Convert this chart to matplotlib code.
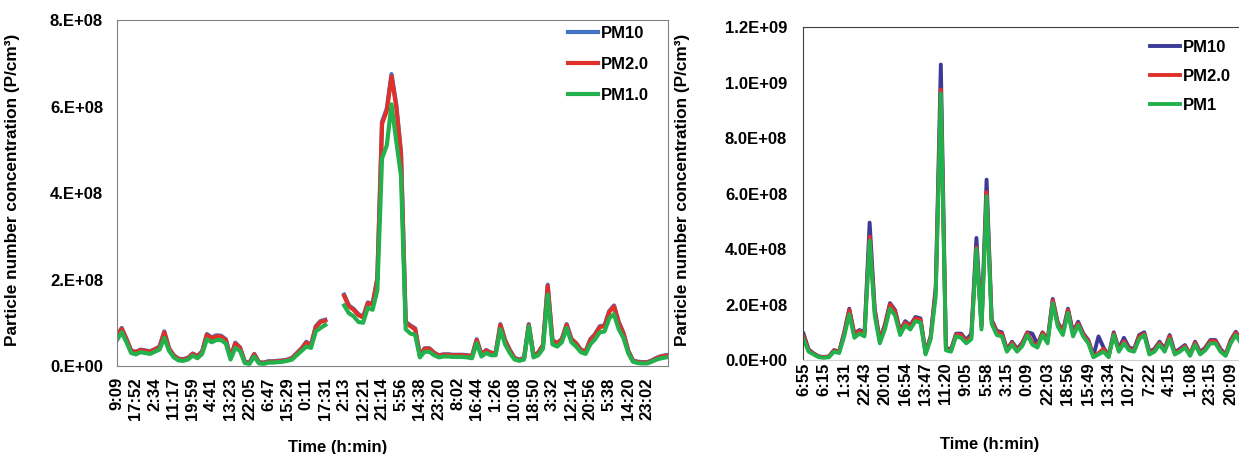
import numpy as np
import matplotlib
matplotlib.use("Agg")
import matplotlib.pyplot as plt

plt.rcParams["font.family"] = ["Liberation Sans", "DejaVu Sans"]
plt.rcParams["font.weight"] = "bold"
plt.rcParams["font.size"] = 12

nan = np.nan

# left panel, values in 1E+08 P/cm3, 4 samples per tick interval
left_ticks = ["9:09", "17:52", "2:34", "11:17", "19:59", "4:41", "13:23", "22:05",
              "6:47", "15:29", "0:11", "17:31", "2:13", "12:21", "21:14", "5:56",
              "14:38", "23:20", "8:02", "16:44", "1:26", "10:08", "18:50", "3:32",
              "12:14", "20:56", "5:38", "14:20", "23:02"]

left_pm1 = [
    0.60, 0.78, 0.55, 0.30, 0.27, 0.32, 0.30, 0.28, 0.33, 0.38, 0.65, 0.35,
    0.20, 0.13, 0.12, 0.15, 0.24, 0.18, 0.28, 0.62, 0.55, 0.60, 0.60, 0.52,
    0.15, 0.42, 0.35, 0.07, 0.05, 0.22, 0.06, 0.05, 0.08, 0.08, 0.09, 0.10,
    0.12, 0.15, 0.25, 0.35, 0.45, 0.42, 0.80, 0.88, 0.95, nan, nan, nan,
    1.40, 1.22, 1.15, 1.02, 1.00, 1.35, 1.30, 1.75, 4.80, 5.10, 6.05, 5.20,
    4.40, 0.85, 0.75, 0.72, 0.20, 0.33, 0.33, 0.25, 0.20, 0.22, 0.22, 0.21,
    0.21, 0.21, 0.20, 0.18, 0.53, 0.22, 0.30, 0.25, 0.25, 0.85, 0.50, 0.30,
    0.15, 0.12, 0.15, 0.92, 0.20, 0.25, 0.40, 1.65, 0.50, 0.45, 0.55, 0.88,
    0.55, 0.45, 0.32, 0.28, 0.50, 0.62, 0.78, 0.80, 1.10, 1.20, 0.85, 0.65,
    0.30, 0.10, 0.07, 0.06, 0.06, 0.10, 0.15, 0.18, 0.20]

left_pm2 = [
    0.68, 0.86, 0.62, 0.35, 0.32, 0.37, 0.35, 0.33, 0.38, 0.44, 0.78, 0.40,
    0.24, 0.16, 0.15, 0.18, 0.28, 0.22, 0.33, 0.72, 0.64, 0.69, 0.68, 0.60,
    0.19, 0.52, 0.42, 0.09, 0.07, 0.27, 0.08, 0.07, 0.10, 0.10, 0.11, 0.12,
    0.14, 0.18, 0.29, 0.40, 0.54, 0.48, 0.90, 1.02, 1.05, nan, nan, nan,
    1.62, 1.38, 1.30, 1.18, 1.12, 1.45, 1.42, 2.00, 5.60, 5.90, 6.70, 6.00,
    4.90, 1.00, 0.92, 0.85, 0.24, 0.40, 0.40, 0.30, 0.24, 0.26, 0.26, 0.25,
    0.25, 0.25, 0.24, 0.22, 0.60, 0.26, 0.36, 0.30, 0.29, 0.95, 0.58, 0.36,
    0.18, 0.14, 0.18, 0.95, 0.24, 0.30, 0.48, 1.85, 0.58, 0.52, 0.62, 0.95,
    0.62, 0.52, 0.37, 0.33, 0.60, 0.72, 0.90, 0.92, 1.25, 1.38, 1.00, 0.75,
    0.35, 0.12, 0.09, 0.08, 0.08, 0.12, 0.18, 0.22, 0.24]

left_pm10 = [
    0.70, 0.88, 0.63, 0.36, 0.33, 0.38, 0.36, 0.34, 0.39, 0.45, 0.80, 0.41,
    0.25, 0.17, 0.16, 0.19, 0.29, 0.23, 0.34, 0.74, 0.66, 0.71, 0.70, 0.62,
    0.20, 0.54, 0.43, 0.10, 0.08, 0.28, 0.09, 0.08, 0.11, 0.11, 0.12, 0.13,
    0.15, 0.19, 0.30, 0.41, 0.56, 0.49, 0.92, 1.04, 1.07, nan, nan, nan,
    1.65, 1.40, 1.32, 1.20, 1.14, 1.47, 1.44, 2.03, 5.65, 5.95, 6.75, 6.05,
    4.95, 1.02, 0.94, 0.87, 0.25, 0.41, 0.41, 0.31, 0.25, 0.27, 0.27, 0.26,
    0.26, 0.26, 0.25, 0.23, 0.62, 0.27, 0.37, 0.31, 0.30, 0.97, 0.60, 0.37,
    0.19, 0.15, 0.19, 0.97, 0.25, 0.31, 0.49, 1.88, 0.60, 0.53, 0.63, 0.97,
    0.63, 0.53, 0.38, 0.34, 0.62, 0.74, 0.92, 0.94, 1.27, 1.40, 1.02, 0.77,
    0.36, 0.13, 0.10, 0.09, 0.09, 0.13, 0.19, 0.23, 0.25]

left_yticks = ["0.E+00", "2.E+08", "4.E+08", "6.E+08", "8.E+08"]

# right panel
right_ticks = ["6:55", "6:15", "1:31", "22:43", "20:01", "16:54", "13:47", "11:20",
               "9:05", "5:58", "3:15", "0:09", "22:03", "18:56", "15:49", "13:34",
               "10:27", "7:22", "4:15", "1:08", "23:15", "20:09"]

right_pm1 = [
    0.75, 0.30, 0.20, 0.10, 0.08, 0.10, 0.30, 0.25, 0.85, 1.65, 0.80, 0.95,
    0.85, 4.30, 1.60, 0.60, 1.10, 1.85, 1.60, 0.90, 1.25, 1.10, 1.40, 1.35,
    0.20, 0.75, 2.30, 9.60, 0.35, 0.30, 0.85, 0.80, 0.60, 0.75, 4.00, 1.10,
    5.90, 1.30, 0.90, 0.85, 0.30, 0.55, 0.30, 0.50, 0.90, 0.55, 0.45, 0.90,
    0.60, 2.05, 1.20, 0.90, 1.70, 0.85, 1.25, 0.85, 0.60, 0.10, 0.20, 0.30,
    0.10, 0.90, 0.30, 0.60, 0.35, 0.30, 0.75, 0.90, 0.20, 0.30, 0.55, 0.30,
    0.75, 0.20, 0.30, 0.45, 0.15, 0.55, 0.20, 0.35, 0.60, 0.60, 0.30, 0.15,
    0.60, 0.90, 0.60, 0.80, 0.50]

right_pm2 = [
    0.85, 0.35, 0.22, 0.12, 0.10, 0.12, 0.34, 0.28, 0.95, 1.80, 0.90, 1.05,
    0.95, 4.45, 1.75, 0.68, 1.22, 2.00, 1.75, 1.00, 1.35, 1.20, 1.50, 1.45,
    0.24, 0.82, 2.50, 9.75, 0.40, 0.34, 0.92, 0.90, 0.68, 0.85, 4.05, 1.20,
    6.05, 1.40, 1.00, 0.95, 0.34, 0.62, 0.35, 0.58, 0.98, 0.62, 0.52, 0.98,
    0.68, 2.15, 1.30, 1.00, 1.80, 0.95, 1.32, 0.92, 0.68, 0.13, 0.25, 0.40,
    0.13, 0.95, 0.35, 0.68, 0.40, 0.35, 0.85, 0.95, 0.25, 0.35, 0.62, 0.35,
    0.85, 0.24, 0.35, 0.50, 0.18, 0.62, 0.24, 0.40, 0.68, 0.68, 0.35, 0.18,
    0.68, 0.98, 0.68, 0.88, 0.55]

right_pm10 = [
    0.95, 0.38, 0.24, 0.13, 0.11, 0.13, 0.36, 0.30, 1.00, 1.85, 0.95, 1.08,
    1.00, 4.95, 1.85, 0.72, 1.28, 2.05, 1.80, 1.05, 1.40, 1.25, 1.55, 1.50,
    0.28, 0.85, 2.65, 10.65, 0.44, 0.38, 0.95, 0.95, 0.72, 0.95, 4.40, 1.25,
    6.50, 1.45, 1.05, 1.00, 0.38, 0.66, 0.40, 0.62, 1.00, 0.95, 0.56, 1.00,
    0.72, 2.20, 1.35, 1.05, 1.85, 1.00, 1.38, 0.96, 0.72, 0.15, 0.85, 0.45,
    0.15, 1.00, 0.40, 0.80, 0.45, 0.40, 0.90, 1.00, 0.30, 0.40, 0.66, 0.40,
    0.90, 0.28, 0.40, 0.54, 0.20, 0.66, 0.28, 0.45, 0.72, 0.72, 0.40, 0.20,
    0.72, 1.02, 0.72, 0.92, 0.58]

right_yticks = ["0.0E+00", "2.0E+08", "4.0E+08", "6.0E+08", "8.0E+08", "1.0E+09", "1.2E+09"]

green = "#22b14c"
red = "#e0302a"
blue_l = "#4472c4"
blue_r = "#3b3a98"
ylab = "Particle number concentration (P/cm³)"

fig = plt.figure(figsize=(12.39, 4.54), dpi=100)
ax1 = fig.add_axes([0.0944, 0.1938, 0.4447, 0.7621])
ax2 = fig.add_axes([0.6477, 0.2070, 0.3612, 0.7335])

# left
x = np.arange(len(left_pm1))
ax1.plot(x, np.array(left_pm10) * 1e8, color=blue_l, lw=3, label="PM10")
ax1.plot(x, np.array(left_pm2) * 1e8, color=red, lw=3, label="PM2.0")
ax1.plot(x, np.array(left_pm1) * 1e8, color=green, lw=3, label="PM1.0")
ax1.set_xlim(0, 116.4)
ax1.set_ylim(0, 8e8)
ax1.set_xticks(np.arange(len(left_ticks)) * 4)
ax1.set_xticklabels(left_ticks, rotation=90)
ax1.set_yticks(np.arange(len(left_yticks)) * 2e8)
ax1.set_yticklabels(left_yticks)
ax1.tick_params(axis="both", length=0)
ax1.tick_params(axis="y", pad=10)
ax1.tick_params(axis="x", pad=8)
for s in ax1.spines.values():
    s.set_color("#808080")
ax1.set_xlabel("Time (h:min)", fontweight="bold")
ax1.xaxis.set_label_coords(0.40, -0.215)
ax1.set_ylabel(ylab, fontweight="bold", fontsize=12.4)
ax1.yaxis.set_label_coords(-0.176, 0.509)
ax1.legend(loc="upper left", bbox_to_anchor=(0.8185, 0.982), frameon=False,
           handlelength=1.8, handletextpad=0.15, labelspacing=0.95,
           borderpad=0, borderaxespad=0, prop={"weight": "bold", "size": 12})

# right
x2 = np.arange(len(right_pm1))
ax2.plot(x2, np.array(right_pm10) * 1e8, color=blue_r, lw=2.8, label="PM10")
ax2.plot(x2, np.array(right_pm2) * 1e8, color=red, lw=2.8, label="PM2.0")
ax2.plot(x2, np.array(right_pm1) * 1e8, color=green, lw=2.8, label="PM1")
ax2.set_xlim(-0.2, 87.8)
ax2.set_ylim(0, 12e8)
ax2.set_xticks(np.arange(len(right_ticks)) * 4)
ax2.set_xticklabels(right_ticks, rotation=90)
ax2.set_yticks(np.arange(len(right_yticks)) * 2e8)
ax2.set_yticklabels(right_yticks)
ax2.tick_params(axis="both", length=0)
ax2.tick_params(axis="y", pad=11)
ax2.tick_params(axis="x", pad=2)
ax2.spines["right"].set_visible(False)
ax2.spines["top"].set_color("#404040")
ax2.spines["left"].set_color("#404040")
ax2.spines["bottom"].set_color("#d0d0d0")
ax2.set_xlabel("Time (h:min)", fontweight="bold")
ax2.xaxis.set_label_coords(0.419, -0.23)
ax2.set_ylabel(ylab, fontweight="bold", fontsize=12.4)
ax2.yaxis.set_label_coords(-0.251, 0.51)
ax2.legend(loc="upper left", bbox_to_anchor=(0.7765, 0.962), frameon=False,
           handlelength=1.8, handletextpad=0.15, labelspacing=0.85,
           borderpad=0, borderaxespad=0, prop={"weight": "bold", "size": 12})

plt.savefig("out.png", dpi=100)
